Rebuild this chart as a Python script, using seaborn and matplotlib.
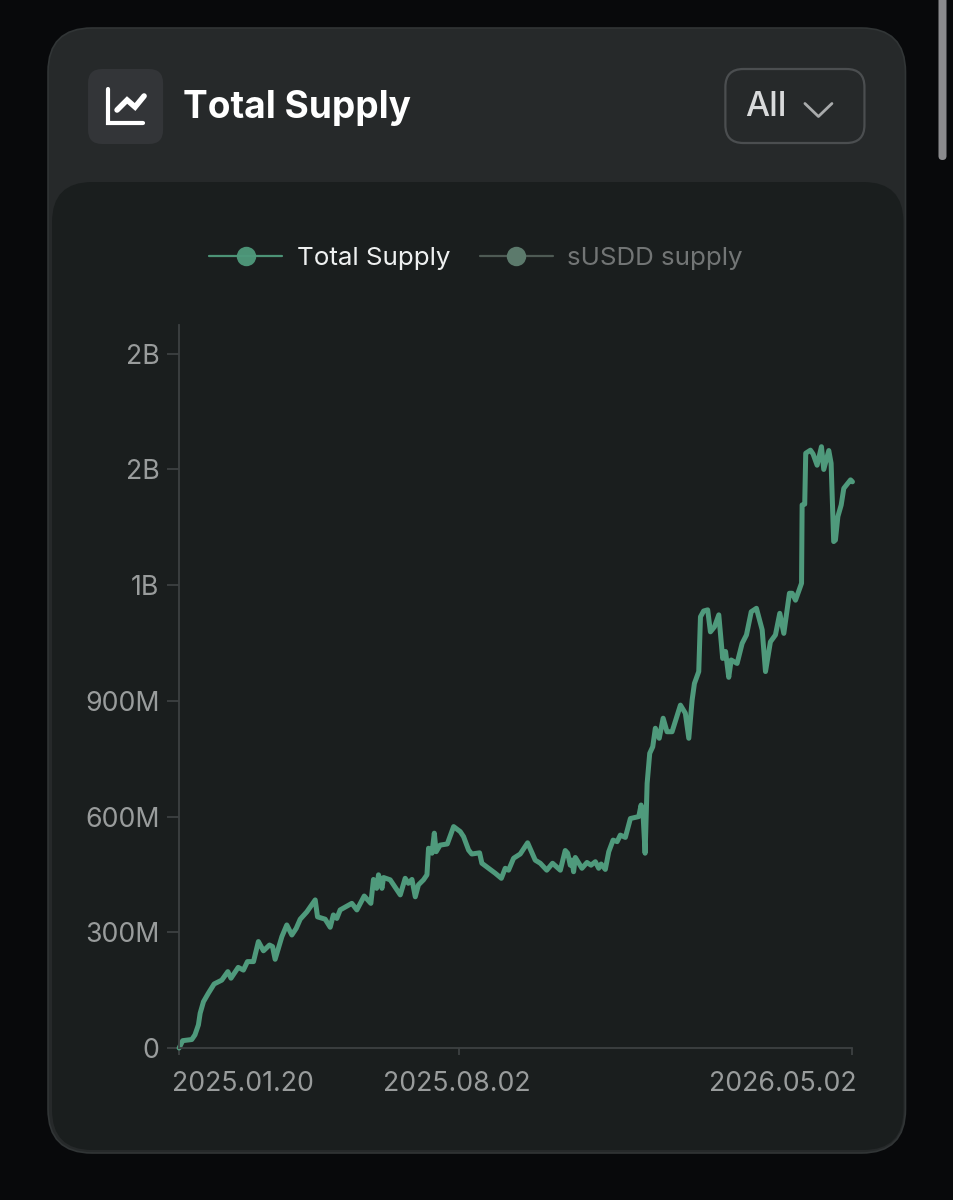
import matplotlib
matplotlib.use("Agg")
import matplotlib.pyplot as plt
import matplotlib.dates as mdates
from matplotlib.lines import Line2D
from matplotlib.patches import FancyBboxPatch
from matplotlib.transforms import ScaledTranslation
import pandas as pd
import seaborn as sns

START_DATE = "2025-01-20"
days_since_start = [
    0, 2.5, 8.8, 11, 13.4, 14.6, 16.9, 20.3, 24.3, 29.6, 33.8, 36, 41, 44.6, 47.4, 51.6, 55, 58.5, 62.7, 64.8,
    66.6, 71.3, 74.7, 78.2, 81.2, 84, 88.6, 94.4, 96, 101.3, 104.8, 107, 109.4, 111.7, 119.8, 123.3, 128.4, 133,
    134.8, 137, 138.3, 140.7, 141.8, 146.4, 153.4, 156.8, 159, 161.5, 163.8, 166, 169.5, 171.9, 173, 175.4, 177,
    178.3, 181, 186, 190.4, 195, 197.3, 200.8, 203, 208.4, 210, 219.3, 223.5, 226.2, 228.5, 232, 236.6, 241.7,
    247, 250.5, 255, 259, 264.4, 267.8, 269.5, 271.3, 272.5, 273.6, 274.8, 279.4, 282.9, 285.7, 288.7, 291,
    292.7, 295.6, 298, 301, 303.8, 306, 309.5, 313, 318.8, 320.4, 321.8, 323.2, 324.6, 326.4, 328.5, 330.3, 333,
    335.7, 338.4, 341.9, 347.7, 351.1, 353.5, 355.8, 357.4, 360.4, 361.6, 363.8, 366.6, 368.5, 371.3, 374.3, 377,
    379, 381.2, 382.9, 387, 390.5, 393.5, 396.8, 400.4, 404.4, 406.7, 410.1, 413.6, 416.6, 419.4, 423.3, 425.2,
    427.5, 431.7, 432.1, 433.9, 434.6, 437.9, 439.7, 442.5, 445.5, 447.1, 450.6, 452.2, 454, 455.2, 456.9, 459.2,
    461, 465.7, 467,
]
total_supply_m = [
    0, 19, 22, 34, 60, 90, 120, 142, 166, 176, 198, 181, 209, 202, 224, 224, 276, 252, 267, 263,
    230, 289, 319, 293, 310, 334, 353, 384, 340, 334, 313, 345, 336, 358, 375, 358, 394, 375,
    437, 414, 449, 414, 442, 436, 397, 440, 427, 437, 392, 423, 436, 449, 518, 505, 557,
    509, 526, 529, 574, 561, 548, 513, 503, 506, 479, 453, 440, 466, 461, 492, 503, 532,
    487, 479, 461, 479, 461, 512, 505, 474, 487, 457, 494, 466, 481, 474, 483, 466,
    477, 463, 509, 539, 535, 552, 546, 595, 600, 630, 604, 505, 686, 764, 781, 829, 803,
    855, 820, 820, 889, 868, 803, 902, 945, 976, 1118, 1133, 1136, 1079, 1092, 1123, 1010,
    1028, 961, 1006, 997, 1049, 1071, 1131, 1140, 1084, 976, 1053, 1071, 1127, 1075, 1179, 1179,
    1161, 1205, 1408, 1410, 1542, 1550, 1540, 1511, 1559, 1500, 1549, 1516, 1313, 1317, 1378, 1408,
    1451, 1473, 1468,
]
y_ticks = [0, 300, 600, 900, 1200, 1500, 1800]
y_labels = ["0", "300M", "600M", "900M", "1B", "2B", "2B"]
x_ticks = ["2025-01-20", "2025-08-02", "2026-05-02"]
x_labels = ["2025.01.20", "2025.08.02", "2026.05.02"]
series_names = ["Total Supply", "sUSDD supply"]
TITLE = "Total Supply"
RANGE_LABEL = "All"

W, H = 953, 1200
GREEN = "#4f9a7c"
TICK_TEXT = "#999c9c"
sns.set_theme(style="dark")
plt.rcParams["font.family"] = ["Inter", "DejaVu Sans"]

fig = plt.figure(figsize=(9.535, 12.0), dpi=100, facecolor="#08090b")

# page furniture, in pixel coordinates
bg = fig.add_axes([0, 0, 1, 1], zorder=0)
bg.set_xlim(0, W)
bg.set_ylim(H, 0)
bg.axis("off")


def box(x0, y0, x1, y1, r, **kw):
    bg.add_patch(FancyBboxPatch((x0 + r, y0 + r), x1 - x0 - 2 * r, y1 - y0 - 2 * r,
                                boxstyle=f"round,pad={r},rounding_size={r}", **kw))


box(48, 28, 905, 1153, 44, fc="#26292a", ec="#313536", lw=1.2)
box(52, 182, 903, 1150, 40, fc="#1a1e1e", ec="none")
box(88, 69, 163, 144, 14, fc="#333538", ec="none")
box(725, 69, 864, 143, 18, fc="none", ec="#4b4e50", lw=1.6)
box(938, -10, 946, 160, 4, fc="#8b8b8e", ec="none")

bg.plot([108, 108, 143], [89, 123, 123], color="white", lw=3, solid_joinstyle="miter")
bg.plot([117, 127, 135, 144], [110, 100, 107, 96], color="white", lw=4, solid_joinstyle="miter")
bg.plot([804.5, 818, 831.5], [103.5, 116.5, 103.5], color="#a9abac", lw=2)
bg.text(182.5, 108.5, TITLE, color="white", fontsize=26.7, fontweight="bold", va="center", ha="left")
bg.text(745, 107.5, RANGE_LABEL, color="#d9dadb", fontsize=24.5, fontweight="medium", va="center", ha="left")

# chart
left, right, top, bottom = 179, 852, 325, 1048
ax = fig.add_axes([left / W, 1 - bottom / H, (right - left) / W, (bottom - top) / H], zorder=1)
ax.patch.set_alpha(0)
data = pd.DataFrame({
    "date": pd.Timestamp(START_DATE) + pd.to_timedelta(days_since_start, unit="D"),
    "supply": total_supply_m,
})
sns.lineplot(data=data, x="date", y="supply", ax=ax, color=GREEN, lw=3.6,
             estimator=None, sort=False, solid_joinstyle="round", clip_on=False)

ax.set_xlim(pd.Timestamp(x_ticks[0]), pd.Timestamp(x_ticks[-1]))
ax.set_ylim(0, (bottom - top) / 0.3857)
ax.set_xlabel("")
ax.set_ylabel("")
ax.grid(False)
ax.set_yticks(y_ticks, y_labels)
ax.set_xticks(mdates.date2num(pd.to_datetime(x_ticks)), x_labels)
ax.tick_params(axis="y", length=8.5, width=1.3, color="#3d4142", labelcolor=TICK_TEXT, labelsize=19.2, pad=5.6, left=True)
ax.tick_params(axis="x", length=5, width=1.3, color="#3d4142", labelcolor=TICK_TEXT, labelsize=19.2, pad=11.5, bottom=True)
for side in ("top", "right"):
    ax.spines[side].set_visible(False)
for side in ("left", "bottom"):
    ax.spines[side].set_color("#3d4142")
    ax.spines[side].set_linewidth(1.3)

shifts_px = [-7, -2, 4]
aligns = ["left", "center", "right"]
for lab, ha, dx in zip(ax.get_xticklabels(), aligns, shifts_px):
    lab.set_ha(ha)
    lab.set_transform(lab.get_transform() + ScaledTranslation(dx / 100, 0, fig.dpi_scale_trans))

handles = [
    Line2D([], [], color=GREEN, lw=1.6, marker="o", ms=14, mec="none", alpha=0.95),
    Line2D([], [], color="#4e5a54", lw=1.6, marker="o", ms=14, mfc="#5c7a6c", mec="none"),
]
leg = fig.legend(handles, series_names, ncols=2, frameon=False, fontsize=18.7, handlelength=2.8,
                 handletextpad=0.56, columnspacing=1.15, loc="center",
                 bbox_to_anchor=(476 / W, 1 - 258.5 / H), numpoints=1)
leg.get_texts()[0].set_color("#eef0f0")
leg.get_texts()[1].set_color("#727575")

fig.savefig("out.png", dpi=100, facecolor=fig.get_facecolor())
